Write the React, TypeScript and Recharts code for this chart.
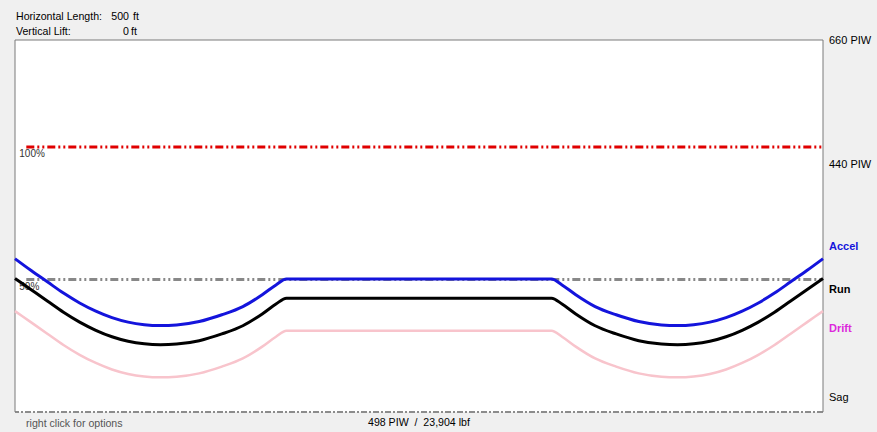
import React from 'react';
import { LineChart, Line, XAxis, YAxis, ReferenceLine, ReferenceArea } from 'recharts';

const distanceFt = [0, 10, 20, 30, 40, 50, 60, 70, 80, 90, 100, 114, 128, 141, 153, 161.5, 168, 332, 338.5, 347, 359, 372, 386, 400, 410, 420, 430, 440, 450, 460, 470, 480, 490, 500];
const accelPiw = [272, 251, 231, 211, 193.5, 179, 167.5, 159.5, 155, 153.5, 154.5, 160.5, 172.5, 187, 208, 225.5, 236, 236, 225.5, 208, 187, 172.5, 160.5, 154.5, 153.5, 155, 159.5, 167.5, 179, 193.5, 211, 231, 251, 272];
const runPiw = [237, 217, 197, 177, 159.5, 145, 133.5, 125.5, 121, 119.5, 120.5, 126.5, 138.5, 153, 174, 191.5, 202, 202, 191.5, 174, 153, 138.5, 126.5, 120.5, 119.5, 121, 125.5, 133.5, 145, 159.5, 177, 197, 217, 237];
const driftPiw = [179, 159, 139, 119, 101.5, 87, 75.5, 67.5, 63, 61.5, 62.5, 68.5, 80.5, 95, 116, 133.5, 144, 144, 133.5, 116, 95, 80.5, 68.5, 62.5, 61.5, 63, 67.5, 75.5, 87, 101.5, 119, 139, 159, 179];

const fullLoadPiw = 470;
const halfLoadPiw = 235;
const lineStartFt = 7;

const rightTickValues = [660, 440, 294.5, 217.5, 148.5, 27.5];
const rightTickLabels = ['660 PIW', '440 PIW', 'Accel', 'Run', 'Drift', 'Sag'];
const rightTickColors = ['#000', '#000', '#1414dc', '#000', '#dc28dc', '#000'];
const rightTickBold = [false, false, true, true, true, false];

const data = distanceFt.map((d, i) => ({ d, accel: accelPiw[i], run: runPiw[i], drift: driftPiw[i] }));

const FONT = '"Liberation Sans", Arial, sans-serif';

const RightTick = (props: any) => {
  const { x, y, payload } = props;
  const i = rightTickValues.indexOf(payload.value);
  return (
    <text x={x} y={y} dy={4} fontSize={11} fontFamily={FONT} fill={rightTickColors[i]} fontWeight={rightTickBold[i] ? 'bold' : 'normal'} textAnchor="start">
      {rightTickLabels[i]}
    </text>
  );
};

const pctLabel = (text: string) => (props: any) => {
  const vb = props.viewBox || {};
  return (
    <text x={vb.x - 7} y={vb.y + 10} fontSize={10} fontFamily={FONT} fill="#333">
      {text}
    </text>
  );
};

export default function App() {
  return (
    <div style={{ position: 'absolute', left: 0, top: 0, width: 877, height: 432, background: '#f0f0f0', fontFamily: FONT, fontSize: 10.6, color: '#000' }}>
      <div style={{ position: 'absolute', left: 16, top: 10, whiteSpace: 'nowrap' }}>Horizontal Length:</div>
      <div style={{ position: 'absolute', left: 100, width: 29, textAlign: 'right', top: 10 }}>500</div>
      <div style={{ position: 'absolute', left: 133, top: 10 }}>ft</div>
      <div style={{ position: 'absolute', left: 16, top: 25, whiteSpace: 'nowrap' }}>Vertical Lift:</div>
      <div style={{ position: 'absolute', left: 100, width: 29, textAlign: 'right', top: 25 }}>0</div>
      <div style={{ position: 'absolute', left: 131, top: 25 }}>ft</div>
      <div style={{ position: 'absolute', left: 0, top: 0 }}>
        <LineChart width={877} height={432} data={data} margin={{ top: 40, right: 0, bottom: 20, left: 15 }}>
          <XAxis dataKey="d" type="number" domain={[0, 500]} hide />
          <YAxis orientation="right" type="number" domain={[0, 660]} ticks={rightTickValues} interval={0} width={54} axisLine={false} tickLine={false} tickMargin={0} tick={<RightTick />} allowDataOverflow />
          <ReferenceArea x1={0} x2={500} y1={0} y2={660} fill="#ffffff" fillOpacity={1} stroke="none" />
          <ReferenceLine y={0} stroke="#8c8c8c" strokeWidth={2} strokeDasharray="6 2 2 2" />
          <ReferenceLine x={0} stroke="#7a7a7a" strokeWidth={1} />
          <ReferenceLine x={500} stroke="#7a7a7a" strokeWidth={1} />
          <ReferenceLine y={660} stroke="#7a7a7a" strokeWidth={1} />
          <ReferenceLine segment={[{ x: lineStartFt, y: fullLoadPiw }, { x: 500, y: fullLoadPiw }]} stroke="#e00000" strokeWidth={3} strokeDasharray="8 3 2 3 2 3" label={pctLabel('100%')} />
          <ReferenceLine segment={[{ x: lineStartFt, y: halfLoadPiw }, { x: 500, y: halfLoadPiw }]} stroke="#888888" strokeWidth={3} strokeDasharray="8 3 2 3 2 3" label={pctLabel('50%')} />
          <Line dataKey="drift" type="monotone" stroke="#f8c4cc" strokeWidth={2.5} dot={false} isAnimationActive={false} />
          <Line dataKey="run" type="monotone" stroke="#000000" strokeWidth={3} dot={false} isAnimationActive={false} />
          <Line dataKey="accel" type="monotone" stroke="#1414dc" strokeWidth={3} dot={false} isAnimationActive={false} />
        </LineChart>
      </div>
      <div style={{ position: 'absolute', left: 26, top: 417, color: '#555', whiteSpace: 'nowrap' }}>right click for options</div>
      <div style={{ position: 'absolute', left: 368, top: 416, whiteSpace: 'nowrap' }}>498 PIW&nbsp;&nbsp;/&nbsp;&nbsp;23,904 lbf</div>
    </div>
  );
}
